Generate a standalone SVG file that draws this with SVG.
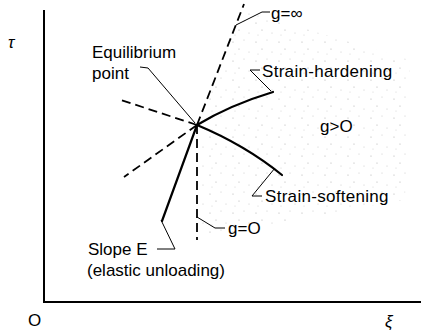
<svg xmlns="http://www.w3.org/2000/svg" width="421" height="333" viewBox="0 0 421 333">
<style>
text{font-family:"Liberation Sans",Arial,sans-serif;font-size:17px;fill:#000}
.ax{stroke:#000;stroke-width:2;fill:none}
.solid{stroke:#000;stroke-width:2.2;fill:none;stroke-linecap:round}
.dash{stroke:#000;stroke-width:1.8;fill:none;stroke-dasharray:9 5}
.lead{stroke:#000;stroke-width:1;fill:none}
</style>
<defs>
<pattern id="stip" width="23" height="19" patternUnits="userSpaceOnUse">
<circle cx="3" cy="4" r="0.6" fill="#999"/>
<circle cx="14" cy="2" r="0.5" fill="#aaa"/>
<circle cx="9" cy="11" r="0.6" fill="#999"/>
<circle cx="19" cy="14" r="0.5" fill="#aaa"/>
<circle cx="5" cy="16" r="0.5" fill="#bbb"/>
</pattern>
</defs>
<path d="M199,125 L243,10 L410,60 L405,200 L320,215 L199,240 Z" fill="url(#stip)" opacity="0.8"/>
<g id="axes">
<line class="ax" x1="44" y1="10" x2="44" y2="302"/>
<line class="ax" x1="43" y1="302" x2="421" y2="302"/>
<text x="8" y="48" font-style="italic">τ</text>
<text x="28" y="326">O</text>
<text x="385" y="327" font-style="italic">ξ</text>
</g>
<g id="connectors">
<line class="dash" x1="197" y1="125" x2="244" y2="4"/>
<line class="dash" x1="197" y1="125" x2="197" y2="240"/>
<line class="dash" x1="197" y1="125" x2="118" y2="99"/>
<line class="dash" x1="197" y1="125" x2="124" y2="177"/>
<path class="solid" d="M197,125 Q230,105 273,92"/>
<path class="solid" d="M197,125 Q245,145 282,175"/>
<line class="solid" x1="197" y1="125" x2="162" y2="221"/>
</g>
<g id="g-inf">
<polyline class="lead" points="236,25 262,12 270,12"/>
<text x="271" y="19">g=∞</text>
</g>
<g id="equilibrium">
<polyline class="lead" points="140,67 148,68 195,123"/>
<text x="92" y="58">Equilibrium</text>
<text x="92" y="79">point</text>
</g>
<g id="hardening">
<polyline class="lead" points="271,91 250,70 260,70"/>
<text x="262" y="77" letter-spacing="0.3">Strain-hardening</text>
</g>
<g id="g-pos">
<text x="320" y="132">g&gt;O</text>
</g>
<g id="softening">
<polyline class="lead" points="275,168 252,196 262,196"/>
<text x="265" y="202" letter-spacing="0.3">Strain-softening</text>
</g>
<g id="g-zero">
<polyline class="lead" points="197,217 215,228 225,228"/>
<text x="228" y="234">g=O</text>
</g>
<g id="slope">
<polyline class="lead" points="161,220 175,249 157,249"/>
<text x="88" y="255">Slope E</text>
<text x="87" y="276">(elastic unloading)</text>
</g>
</svg>
